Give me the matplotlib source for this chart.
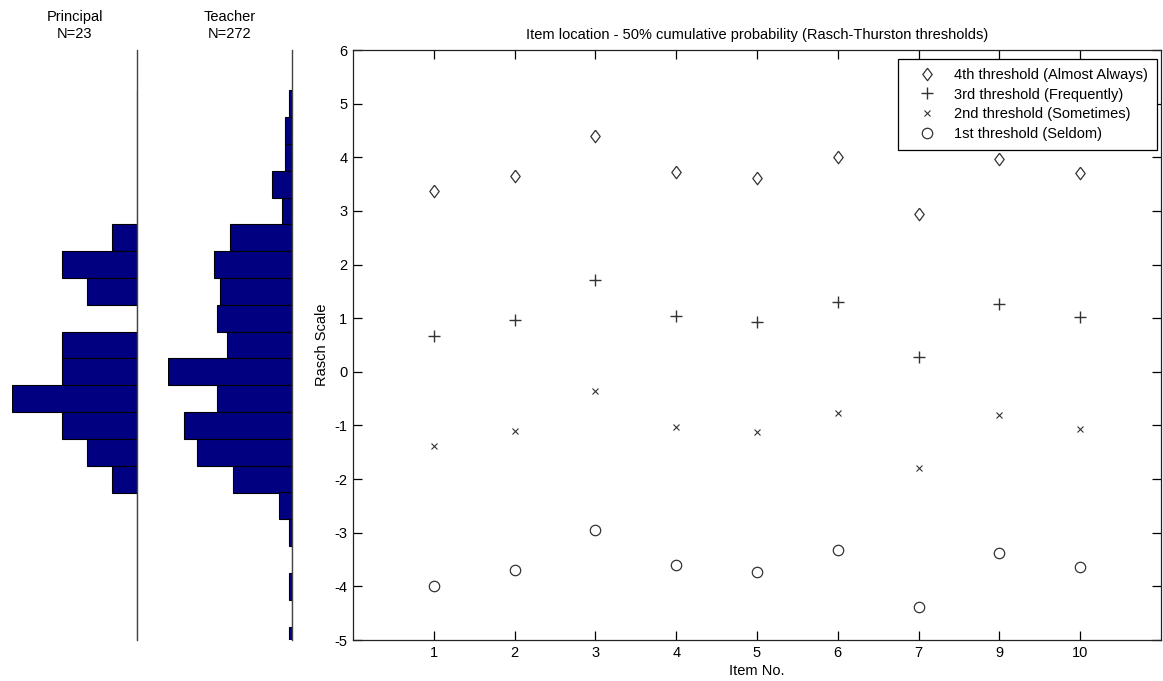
import matplotlib
matplotlib.use("Agg")
import matplotlib.pyplot as plt
import numpy as np

plt.rcParams['font.family'] = ['Liberation Sans', 'DejaVu Sans']
plt.rcParams['axes.unicode_minus'] = False

# ---- data ----
item_labels = ['1', '2', '3', '4', '5', '6', '7', '9', '10']
thr4 = [3.37, 3.65, 4.40, 3.72, 3.61, 4.00, 2.95, 3.97, 3.71]
thr3 = [0.67, 0.97, 1.71, 1.05, 0.93, 1.31, 0.27, 1.27, 1.02]
thr2 = [-1.39, -1.10, -0.35, -1.02, -1.13, -0.76, -1.79, -0.80, -1.06]
thr1 = [-3.99, -3.70, -2.95, -3.60, -3.73, -3.33, -4.39, -3.38, -3.63]

bin_centers = [5.0, 4.5, 4.0, 3.5, 3.0, 2.5, 2.0, 1.5, 1.0, 0.5, 0.0,
               -0.5, -1.0, -1.5, -2.0, -2.5, -3.0, -3.5, -4.0, -4.5, -5.0]
principal_counts = [0, 0, 0, 0, 0, 1, 3, 2, 0, 3, 3, 5, 3, 2, 1, 0, 0, 0, 0, 0, 0]
teacher_counts = [1, 2, 2, 6, 3, 19, 24, 22, 23, 20, 38, 23, 33, 29, 18, 4, 1, 0, 1, 0, 1]

W, H = 1163, 681
fig = plt.figure(figsize=(W / 100, H / 100), dpi=100)

def frac(x0, x1, ytop, ybot):
    return [x0 / W, 1 - ybot / H, (x1 - x0) / W, (ybot - ytop) / H]

ylim = (-5, 6)
navy = '#000080'
fs = 10.5

# ---- histograms ----
for rect, counts, title in [
        (frac(12, 137, 50, 640), principal_counts, 'Principal\nN=23'),
        (frac(168, 292, 50, 640), teacher_counts, 'Teacher\nN=272')]:
    ax = fig.add_axes(rect)
    ax.barh(bin_centers, counts, height=0.5, color=navy, edgecolor='black',
            linewidth=0.8, align='center')
    ax.set_xlim(max(counts), 0)
    ax.set_ylim(*ylim)
    for s in ['left', 'top', 'bottom']:
        ax.spines[s].set_visible(False)
    ax.spines['right'].set_color('#444444')
    ax.spines['right'].set_linewidth(1.0)
    ax.set_xticks([])
    ax.set_yticks([])
    ax.set_title(title, fontsize=fs, pad=9, linespacing=1.25)

# ---- scatter ----
ax = fig.add_axes(frac(353, 1161, 50, 640))
pos = list(range(1, len(item_labels) + 1))
mc = '#333333'
diamond = [(0, 1), (0.75, 0), (0, -1), (-0.75, 0), (0, 1)]
ax.plot(pos, thr4, linestyle='none', marker=diamond, markersize=9, mfc='none',
        mec=mc, mew=0.9, label='4th threshold (Almost Always)')
ax.plot(pos, thr3, linestyle='none', marker='+', markersize=8.5, mec=mc, mew=1.0,
        label='3rd threshold (Frequently)')
ax.plot(pos, thr2, linestyle='none', marker='x', markersize=4.5, mec=mc, mew=0.8,
        label='2nd threshold (Sometimes)')
ax.plot(pos, thr1, linestyle='none', marker='o', markersize=7.5, mfc='none',
        mec=mc, mew=0.9, label='1st threshold (Seldom)')

ax.set_xlim(0, len(item_labels) + 1)
ax.set_ylim(*ylim)
ax.set_xticks(pos)
ax.set_xticklabels(item_labels)
ax.set_yticks(list(range(-5, 7)))
ax.tick_params(direction='in', top=True, right=True, labelsize=fs, length=6.5,
               width=0.9, pad=4)
for s in ax.spines.values():
    s.set_linewidth(0.9)
    s.set_color('#222222')
ax.set_title('Item location - 50% cumulative probability (Rasch-Thurston thresholds)',
             fontsize=fs, pad=8)
ax.set_ylabel('Rasch Scale', fontsize=fs, labelpad=4)
ax.set_xlabel('Item No.', fontsize=fs, labelpad=3)
ax_w, ax_h = 1161 - 353, 640 - 50
leg = ax.legend(loc='upper right',
                bbox_to_anchor=((1157 - 353) / ax_w, (640 - 59) / ax_h),
                fontsize=fs, frameon=True, fancybox=False,
                edgecolor='black', framealpha=1, borderaxespad=0.0,
                handlelength=2.9, handletextpad=0.4, labelspacing=0.4,
                borderpad=0.6)
leg.get_frame().set_linewidth(0.9)

fig.savefig('out.png', dpi=100)
